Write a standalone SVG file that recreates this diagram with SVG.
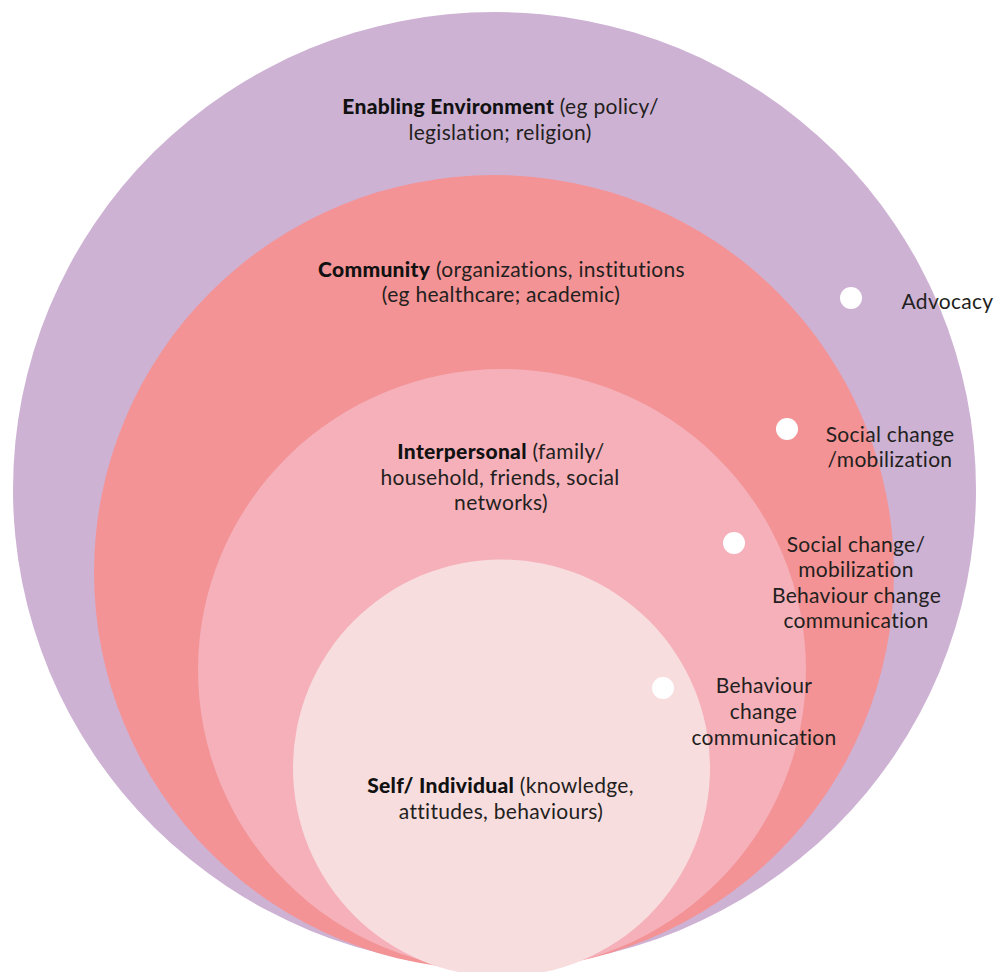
<svg xmlns="http://www.w3.org/2000/svg" width="998" height="972" viewBox="0 0 998 972">
  <style>
    .lbl { font-family: Lato, "Noto Sans", "Liberation Sans", sans-serif; font-size: 21px; fill: #231f20; text-anchor: middle; letter-spacing: 0.3px; }
    .hd { font-weight: 900; fill: #111111; }
    .dot { fill: #ffffff; }
    .env { fill: #ceb2d4; }
    .com { fill: #f39395; }
    .inter { fill: #f5b0ba; }
    .self { fill: #f8dddf; }
  </style>

  <!-- outermost level: enabling environment -->
  <g id="enabling-environment">
    <ellipse class="env" cx="494.5" cy="489.5" rx="481.5" ry="477.5"/>
    <text class="lbl" x="500.5" y="114"><tspan class="hd">Enabling Environment</tspan> (eg policy/</text>
    <text class="lbl" x="500" y="140">legislation; religion)</text>
  </g>

  <!-- community level -->
  <g id="community">
    <ellipse class="com" cx="494" cy="572.5" rx="400" ry="397.5"/>
    <text class="lbl" x="501.5" y="277"><tspan class="hd">Community</tspan> (organizations, institutions</text>
    <text class="lbl" x="501" y="302">(eg healthcare; academic)</text>
  </g>

  <!-- interpersonal level -->
  <g id="interpersonal">
    <ellipse class="inter" cx="502" cy="670" rx="304" ry="301"/>
    <text class="lbl" x="501" y="459"><tspan class="hd">Interpersonal</tspan> (family/</text>
    <text class="lbl" x="500" y="485">household, friends, social</text>
    <text class="lbl" x="501" y="510">networks)</text>
  </g>

  <!-- innermost level: the individual -->
  <g id="self-individual">
    <circle class="self" cx="501.5" cy="768" r="208.5"/>
    <text class="lbl" x="500.5" y="793"><tspan class="hd">Self/ Individual</tspan> (knowledge,</text>
    <text class="lbl" x="501" y="819">attitudes, behaviours)</text>
  </g>

  <!-- intervention markers along the right side -->
  <g id="advocacy">
    <circle class="dot" cx="851" cy="298" r="11"/>
    <text class="lbl" x="947.5" y="309">Advocacy</text>
  </g>

  <g id="social-change">
    <circle class="dot" cx="787" cy="429" r="11"/>
    <text class="lbl" x="890" y="442">Social change</text>
    <text class="lbl" x="890" y="467">/mobilization</text>
  </g>

  <g id="social-and-behaviour-change">
    <circle class="dot" cx="734" cy="543" r="11"/>
    <text class="lbl" x="856" y="552">Social change/</text>
    <text class="lbl" x="856" y="577">mobilization</text>
    <text class="lbl" x="856.5" y="603">Behaviour change</text>
    <text class="lbl" x="856" y="628">communication</text>
  </g>

  <g id="behaviour-change">
    <circle class="dot" cx="663" cy="688" r="11"/>
    <text class="lbl" x="764" y="693">Behaviour</text>
    <text class="lbl" x="763.5" y="719">change</text>
    <text class="lbl" x="764" y="745">communication</text>
  </g>
</svg>
